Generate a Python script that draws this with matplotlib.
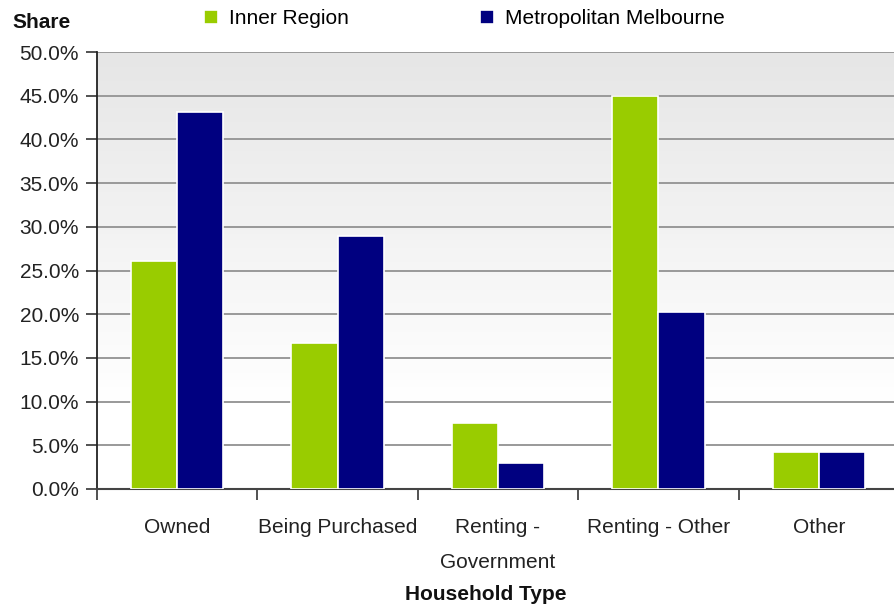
import numpy as np
import matplotlib
matplotlib.use("Agg")
import matplotlib.pyplot as plt
from matplotlib.colors import LinearSegmentedColormap

categories = ["Owned", "Being Purchased", "Renting -\nGovernment", "Renting - Other", "Other"]
inner_region = [26.1, 16.7, 7.5, 45.0, 4.2]
metro_melbourne = [43.1, 28.9, 3.0, 20.2, 4.2]
series_names = ["Inner Region", "Metropolitan Melbourne"]
colors = ["#99CC00", "#000080"]
y_ticks = [0, 5, 10, 15, 20, 25, 30, 35, 40, 45, 50]

plt.rcParams['font.family'] = ['Liberation Sans', 'DejaVu Sans']
FS = 15

fig = plt.figure(figsize=(8.95, 6.13), dpi=100)
ax = fig.add_axes([97/895, 1-489/613, (899-97)/895, (489-52)/613])

# gradient background
grad = np.linspace(0, 1, 256).reshape(-1, 1)
cmap = LinearSegmentedColormap.from_list("bg", [(0, "#e6e6e6"), (0.8, "#ffffff"), (1.0, "#ffffff")])
ax.imshow(grad, aspect='auto', cmap=cmap, extent=[0, 1, 0, 1], transform=ax.transAxes, zorder=0)

x = np.arange(len(categories))
w = 0.288
b1 = ax.bar(x - w/2, inner_region, w, color=colors[0], edgecolor="white", linewidth=1.2, zorder=3, label=series_names[0])
b2 = ax.bar(x + w/2, metro_melbourne, w, color=colors[1], edgecolor="white", linewidth=1.2, zorder=3, label=series_names[1])

ax.set_xlim(-0.5, len(categories) - 0.5)
ax.set_ylim(0, 50)
ax.set_yticks(y_ticks)
ax.set_yticklabels([f"{v:.1f}%" for v in y_ticks], fontsize=FS, color="#222222")
ax.yaxis.grid(True, color="#999999", linewidth=1.4, zorder=1)
ax.set_axisbelow(True)

ax.set_xticks(np.arange(len(categories) + 1) - 0.5)
ax.set_xticklabels([])
ax.set_xticks(x, minor=True)
ax.set_xticklabels(categories, minor=True, fontsize=FS, color="#222222", linespacing=2.05)
ax.tick_params(axis='x', which='minor', length=0, pad=21)
ax.tick_params(axis='x', which='major', length=8, width=1.2, color="#333333")
ax.tick_params(axis='y', length=8, width=1.2, color="#333333", pad=5)

for s in ["top", "right"]:
    ax.spines[s].set_visible(False)
ax.spines["left"].set_color("#222222")
ax.spines["left"].set_linewidth(1.3)
ax.spines["bottom"].set_color("#444444")
ax.spines["bottom"].set_linewidth(1.5)

fig.text(12/895, 1-22/613, "Share", fontsize=FS, fontweight="bold", va="center", ha="left", color="#111111")
fig.text(486/895, 1-595/613, "Household Type", fontsize=FS, fontweight="bold", va="center", ha="center", color="#111111")

for bars, name, xpos in [(b1, series_names[0], 204), (b2, series_names[1], 480)]:
    fig.legend(handles=[bars], labels=[name], loc="center left", bbox_to_anchor=(xpos/895, 1-19/613),
               frameon=False, fontsize=FS, handlelength=0.65, handleheight=0.65, handletextpad=0.55,
               borderaxespad=0, borderpad=0)

fig.savefig("out.png", dpi=100)
